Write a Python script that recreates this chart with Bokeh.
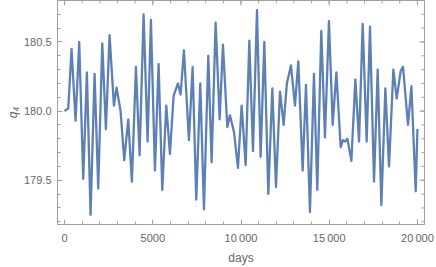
import math
from bokeh.plotting import figure
from bokeh.models import Range1d, FixedTicker, ColumnDataSource
from bokeh.embed import file_html
from bokeh.resources import INLINE

# --- data (extrema and shoulders) ---
days = [0, 210, 397, 624, 831, 1058, 1266, 1474, 1701, 1909,
        2137, 2343, 2551, 2797, 2948, 3176, 3383, 3610, 3817, 4045,
        4253, 4480, 4706, 4895, 5122, 5330, 5538, 5765, 5973, 6180,
        6425, 6577, 6766, 7049, 7258, 7466, 7692, 7900, 8146, 8335,
        8562, 8789, 8977, 9224, 9375, 9600, 9828, 10036, 10263, 10471,
        10679, 10906, 11113, 11321, 11548, 11775, 11983, 12210, 12418, 12600,
        12832, 13058, 13248, 13495, 13683, 13909, 14135, 14323, 14550, 14758,
        14985, 15196, 15405, 15649, 15780, 15900, 16030, 16256, 16482, 16690,
        16897, 17123, 17311, 17538, 17747, 17955, 18182, 18389, 18635, 18824,
        19050, 19182, 19465, 19658, 19902, 20000]
q4 = [180.00, 180.02, 180.45, 179.93, 180.50, 179.51, 180.28, 179.25, 180.27, 179.44,
      180.49, 179.87, 180.55, 180.04, 180.17, 180.00, 179.645, 179.94, 179.49, 180.32,
      179.68, 180.70, 179.78, 180.66, 179.57, 180.34, 179.43, 180.04, 179.69, 180.11,
      180.20, 180.12, 180.44, 179.79, 180.32, 179.36, 180.20, 179.29, 180.40, 179.63,
      180.64, 179.94, 180.48, 179.885, 179.97, 179.85, 179.59, 180.04, 179.61, 180.51,
      179.71, 180.73, 179.67, 180.50, 179.40, 180.165, 179.45, 180.14, 179.90, 180.20,
      180.33, 180.04, 180.36, 179.57, 180.19, 179.27, 180.27, 179.43, 180.58, 179.81,
      180.65, 179.90, 180.28, 179.74, 179.79, 179.78, 179.80, 179.64, 180.23, 179.78,
      180.63, 179.78, 180.61, 179.49, 180.30, 179.32, 180.165, 179.60, 180.30, 180.09,
      180.29, 180.32, 179.90, 180.18, 179.42, 179.87]

x_ticks = [0, 5000, 10000, 15000, 20000]
x_tick_labels = ["0", "5000", "10\u2009000", "15\u2009000", "20\u2009000"]
x_minor = list(range(0, 20001, 1000))
y_ticks = [179.5, 180.0, 180.5]
y_tick_labels = ["179.5", "180.0", "180.5"]
y_minor = [round(179.2 + 0.1 * i, 1) for i in range(16)]
x_label = "days"
y_label = "q\u2084"

X0, X1 = -400, 20400
Y0, Y1 = 179.18, 180.80

LINE = "#5E81B5"
FRAME = "#a0a0a0"
TXT = "#666666"
FONT = "Liberation Sans"

p = figure(width=436, height=267, output_backend="svg", toolbar_location=None,
           x_range=Range1d(X0, X1), y_range=Range1d(Y0, Y1),
           min_border_left=57, min_border_right=12, min_border_top=0,
           min_border_bottom=40)
p.background_fill_color = "white"
p.border_fill_color = "white"
p.outline_line_color = FRAME
p.xgrid.visible = False
p.ygrid.visible = False

src = ColumnDataSource(dict(x=days, y=q4))
p.line("x", "y", source=src, line_color=LINE, line_width=2.3, line_join="round")

def style(ax):
    ax.axis_line_color = FRAME
    ax.major_tick_line_color = FRAME
    ax.minor_tick_line_color = FRAME
    ax.major_tick_in = 5
    ax.major_tick_out = 0
    ax.minor_tick_in = 3
    ax.minor_tick_out = 0
    ax.major_label_text_font = FONT
    ax.major_label_text_font_size = "11px"
    ax.major_label_text_color = TXT
    ax.major_label_standoff = 7
    ax.axis_label_text_font = FONT
    ax.axis_label_text_font_size = "12px"
    ax.axis_label_text_color = TXT
    ax.axis_label_text_font_style = "normal"

xa = p.xaxis[0]
xa.ticker = FixedTicker(ticks=x_ticks, minor_ticks=x_minor)
xa.major_label_overrides = {t: l for t, l in zip(x_ticks, x_tick_labels)}
xa.axis_label = x_label
style(xa)
xa.axis_label_standoff = 4

ya = p.yaxis[0]
ya.ticker = FixedTicker(ticks=y_ticks, minor_ticks=y_minor)
ya.major_label_overrides = {t: l for t, l in zip(y_ticks, y_tick_labels)}
ya.axis_label = y_label
style(ya)
ya.major_label_standoff = 6
ya.axis_label_text_font_style = "italic"
ya.axis_label_standoff = 1

# inward ticks on the top and right frame edges (mirroring the frame ticks)
p.ray(x=x_ticks, y=[Y1] * len(x_ticks), length=5, length_units="screen",
      angle=-math.pi / 2, line_color=FRAME, line_width=1)
p.ray(x=x_minor, y=[Y1] * len(x_minor), length=3, length_units="screen",
      angle=-math.pi / 2, line_color=FRAME, line_width=1)
p.ray(x=[X1] * len(y_ticks), y=y_ticks, length=5, length_units="screen",
      angle=math.pi, line_color=FRAME, line_width=1)
p.ray(x=[X1] * len(y_minor), y=y_minor, length=3, length_units="screen",
      angle=math.pi, line_color=FRAME, line_width=1)

open("out.html", "w").write(file_html(p, INLINE))
